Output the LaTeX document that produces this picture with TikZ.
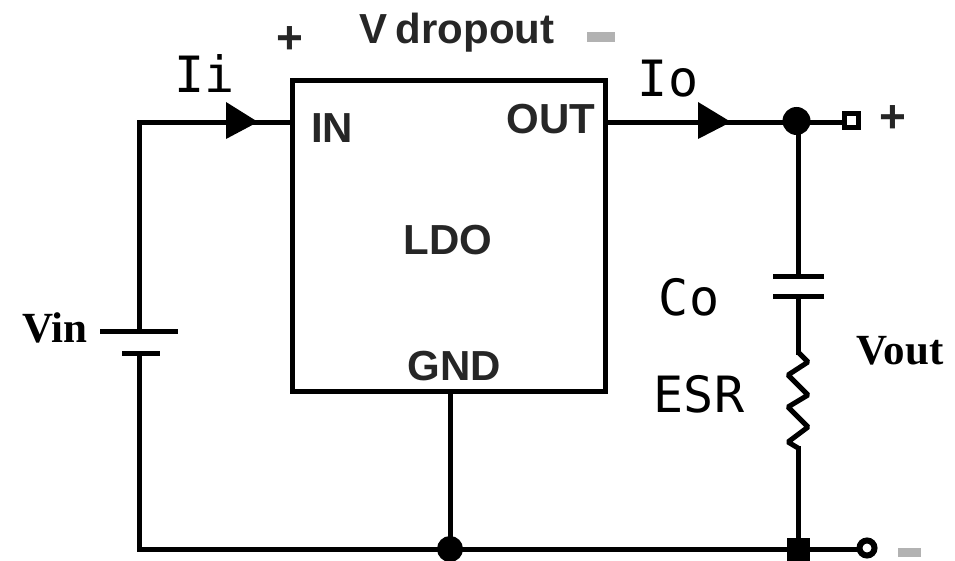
\documentclass[tikz,border=0pt]{standalone}
\usepackage{fontspec}
\setmainfont{Liberation Sans}
\newfontfamily\labelfont{DejaVu Sans Mono}
\newfontfamily\serfont{Liberation Serif}
\usetikzlibrary{calc}
\tikzset{
  wire/.style={line width=5pt,black,line cap=rect},
  thinwire/.style={line width=5pt,black,line join=bevel},
  ictext/.style={inner sep=0pt,anchor=center,font=\bfseries\fontsize{42}{42}\selectfont,text=black!85},
  currtext/.style={inner sep=0pt,anchor=center,font=\labelfont\fontsize{50}{50}\selectfont},
  sertext/.style={inner sep=0pt,anchor=center,font=\serfont\bfseries\fontsize{43}{43}\selectfont},
  signtext/.style={inner sep=0pt,anchor=center,font=\bfseries\fontsize{46}{46}\selectfont,text=black!85},
  jdot/.style={circle,fill=black,inner sep=0pt,minimum size=28pt},
  jsq/.style={rectangle,fill=black,inner sep=0pt,minimum size=23pt},
  term/.style={rectangle,draw=black,fill=white,line width=5pt,inner sep=0pt,minimum size=14pt},
  termc/.style={circle,draw=black,fill=white,line width=6pt,inner sep=0pt,minimum size=15pt},
  ldobox/.style={rectangle,draw=black,fill=white,line width=5pt,inner sep=0pt,minimum width=313pt,minimum height=310pt},
  tip/.style={fill=black,draw=none},
}
\begin{document}
\begin{tikzpicture}[x=1pt,y=-1pt]
\useasboundingbox (0,0) rectangle (955,561);
% coordinates
\coordinate (tl) at (139,123);
\coordinate (bl) at (139,549);
\coordinate (batA) at (139,331);
\coordinate (batB) at (139,353);
\coordinate (pA1) at (100,331);
\coordinate (pA2) at (178,331);
\coordinate (pB1) at (122,353);
\coordinate (pB2) at (160,353);
\coordinate (inpin) at (292,123);
\coordinate (outpin) at (605,123);
\coordinate (wn) at (798,123);
\coordinate (capA) at (798,276);
\coordinate (capB) at (798,296);
\coordinate (cA1) at (773,276);
\coordinate (cA2) at (824,276);
\coordinate (cB1) at (773,296);
\coordinate (cB2) at (824,296);
\coordinate (rA) at (798,352);
\coordinate (rB) at (798,448);
\coordinate (ws) at (798,549);
\node[ldobox] (ldo) at (448.5,236) {};
\node[jdot] (top) at (796.5,121) {};
\node[jdot,minimum size=26pt] (botg) at (450,549) {};
\node[jsq] (botc) at (798,549) {};
\node[term] (tplus) at (851.5,120.5) {};
\node[termc] (tminus) at (867,548) {};
% wires
\draw[wire] (batA) -- (tl) -- (inpin);
\draw[wire] (batB) -- (bl) -- (botg) -- (botc);
\draw[wire] (ws) -- (ws -| tminus.west);
\draw[wire] (outpin) -- (wn) -- (wn -| tplus.west);
\draw[wire] (wn) -- (capA);
\draw[wire] (capB) -- (rA);
\draw[wire] (rB) -- (ws);
\draw[wire] (ldo.south -| botg) -- (botg);
\draw[wire,line cap=butt] (pA1) -- (pA2);
\draw[wire,line cap=butt] (pB1) -- (pB2);
\draw[wire,line cap=butt] (cA1) -- (cA2);
\draw[wire,line cap=butt] (cB1) -- (cB2);
\draw[thinwire] (rA) -- ++(10,10) -- ++(-20,13) -- ++(20,20) -- ++(-20,12) -- ++(20,20) -- ++(-20,15) -- (rB);
% arrowheads
\fill[tip] (226,102) -- (258,122) -- (226,139) -- cycle;
\fill[tip] (698,102) -- (731,122) -- (698,139) -- cycle;
% texts
\node[ictext] (in) at (332,128) {IN};
\node[ictext] (out) at (551,119) {OUT};
\node[ictext] (ldot) at (448,240) {LDO};
\node[ictext] (gnd) at (454,366) {GND};
\node[inner sep=0pt,font=\bfseries\fontsize{42}{42}\selectfont,text=black!85,anchor=center] (vd) at (457,33) {V\kern 8pt dropout};
\node[currtext] (ii) at (205,74) {Ii};
\node[currtext] (io) at (668,79) {Io};
\node[currtext] (co) at (689,297) {Co};
\node[currtext] (esr) at (699,394) {ESR};
\node[sertext] (vin) at (55,328) {Vin};
\node[sertext] (vout) at (900,351) {Vout};
\node[signtext] (plusa) at (290,40) {+};
\node[signtext] (plusb) at (893,119) {+};
\fill[black!30] (587,32) rectangle (615,42);
\fill[black!30] (898,548) rectangle (921,557);
\end{tikzpicture}
\end{document}
